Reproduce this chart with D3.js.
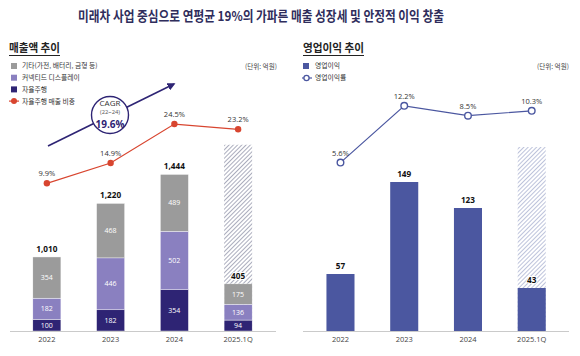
<!DOCTYPE html>
<html><head><meta charset="utf-8">
<script src="https://cdn.jsdelivr.net/npm/d3@7"></script>
<style>
html,body{margin:0;padding:0;background:#fff;}
svg{display:block;font-family:"Noto Sans CJK KR","Noto Sans",sans-serif;}
.num{font-family:"Open Sans","Noto Sans",sans-serif;}
</style></head>
<body><svg id="c" width="580" height="356"></svg>
<script>
// ---- data ----
const years = ["2022", "2023", "2024", "2025.1Q"];
const autonomous = [100, 182, 354, 94];      // 자율주행
const connected = [182, 446, 502, 136];      // 커넥티드 디스플레이
const others = [354, 468, 489, 175];         // 기타
const salesTotals = [1010, 1220, 1444, 405];
const salesForecast = [null, null, null, 1600];
const autoShare = [9.9, 14.9, 24.5, 23.2];   // 자율주행 매출 비중 (%)
const opProfit = [57, 149, 123, 43];
const opForecast = [null, null, null, 184];
const opMargin = [5.6, 12.2, 8.5, 10.3];     // 영업이익률 (%)
const cagrLabel = ["CAGR", "(22~24)", "19.6%"];

const svg = d3.select("#c");
const NAVY = "#2e2474", PURPLE = "#8a80c0", GRAY = "#9b9b9b", RED = "#d8452f", BLUE = "#4b57a0";
const defs = svg.append("defs");
function hatch(id, color) {
  const p = defs.append("pattern").attr("id", id).attr("patternUnits", "userSpaceOnUse")
    .attr("width", 3).attr("height", 3).attr("patternTransform", "rotate(45)");
  p.append("rect").attr("width", 3).attr("height", 3).attr("fill", "#fff");
  p.append("line").attr("x1", 0).attr("y1", 0).attr("x2", 0).attr("y2", 3)
    .attr("stroke", color).attr("stroke-width", 1.3);
}
hatch("hatchL", "#7d8199");
hatch("hatchR", "#9aa2c8");
defs.append("marker").attr("id", "arr").attr("viewBox", "0 0 10 10").attr("refX", 8).attr("refY", 5)
  .attr("markerWidth", 5).attr("markerHeight", 5).attr("orient", "auto")
  .append("path").attr("d", "M0,0L10,5L0,10z").attr("fill", NAVY);

// title
svg.append("text").attr("x", 261).attr("y", 21).attr("text-anchor", "middle")
  .attr("font-size", 13.5).attr("font-weight", 700).attr("fill", "#2f2d5c")
  .attr("textLength", 366).attr("lengthAdjust", "spacingAndGlyphs")
  .text("미래차 사업 중심으로 연평균 19%의 가파른 매출 성장세 및 안정적 이익 창출");

function panelTitle(x, txt, w) {
  svg.append("text").attr("x", x).attr("y", 52).attr("font-size", 11).attr("font-weight", 700)
    .attr("fill", "#222").attr("textLength", w).attr("lengthAdjust", "spacingAndGlyphs").text(txt);
  svg.append("line").attr("x1", x).attr("x2", x + w).attr("y1", 55.5).attr("y2", 55.5)
    .attr("stroke", "#222").attr("stroke-width", 1);
}
panelTitle(9, "매출액 추이", 51);
panelTitle(303, "영업이익 추이", 61);

function unit(xr) {
  svg.append("text").attr("x", xr).attr("y", 68.5).attr("text-anchor", "end").attr("font-size", 6.6)
    .attr("fill", "#444").text("(단위: 억원)");
}
unit(277); unit(569);

// left legend
const legL = [["sq", GRAY, "기타(가전, 배터리, 금형 등)"], ["sq", PURPLE, "커넥티드 디스플레이"],
  ["sq", NAVY, "자율주행"], ["dot", RED, "자율주행 매출 비중"]];
legL.forEach((d, i) => {
  const y = 66 + i * 11.7;
  if (d[0] === "sq") svg.append("rect").attr("x", 11).attr("y", y - 3).attr("width", 6).attr("height", 6).attr("fill", d[1]);
  else {
    svg.append("line").attr("x1", 9).attr("x2", 19).attr("y1", y).attr("y2", y).attr("stroke", d[1]).attr("stroke-width", 1.2);
    svg.append("circle").attr("cx", 14).attr("cy", y).attr("r", 3).attr("fill", d[1]);
  }
  svg.append("text").attr("x", 22).attr("y", y + 2.4).attr("font-size", 6.8).attr("fill", "#333").text(d[2]);
});
// right legend
svg.append("rect").attr("x", 303).attr("y", 63).attr("width", 6).attr("height", 6).attr("fill", BLUE);
svg.append("text").attr("x", 315).attr("y", 68.4).attr("font-size", 6.8).attr("fill", "#333").text("영업이익");
svg.append("line").attr("x1", 302).attr("x2", 312).attr("y1", 78).attr("y2", 78).attr("stroke", BLUE).attr("stroke-width", 1.2);
svg.append("circle").attr("cx", 306.5).attr("cy", 78).attr("r", 2.6).attr("fill", "#fff").attr("stroke", BLUE).attr("stroke-width", 1.3);
svg.append("text").attr("x", 315).attr("y", 80.4).attr("font-size", 6.8).attr("fill", "#333").text("영업이익률");

// ---- left chart ----
const xL = d3.scaleBand().domain(years).range([15, 270]).paddingInner(0.56).paddingOuter(0.28);
const yL = d3.scaleLinear().domain([0, 1700]).range([331, 133.1]);
const pL = d3.scaleLinear().domain([0, 30]).range([223.5, 101.7]);

const rows = years.map((y, i) => ({ year: y, auto: autonomous[i], conn: connected[i], other: others[i] }));
const stack = d3.stack().keys(["auto", "conn", "other"])(rows);
const colors = { auto: NAVY, conn: PURPLE, other: GRAY };

const gL = svg.append("g");
gL.selectAll("rect.fc").data(years.filter((y, i) => salesForecast[i] != null)).join("rect")
  .attr("x", d => xL(d)).attr("width", xL.bandwidth())
  .attr("y", d => yL(salesForecast[years.indexOf(d)]))
  .attr("height", d => yL(0) - yL(salesForecast[years.indexOf(d)]))
  .attr("fill", "url(#hatchL)");
stack.forEach(layer => {
  gL.selectAll(null).data(layer).join("rect")
    .attr("x", d => xL(d.data.year)).attr("width", xL.bandwidth())
    .attr("y", d => yL(d[1])).attr("height", d => yL(d[0]) - yL(d[1]))
    .attr("fill", colors[layer.key]).attr("stroke", "#fff").attr("stroke-width", 0.4);
  gL.selectAll(null).data(layer).join("text").attr("class", "num")
    .attr("x", d => xL(d.data.year) + xL.bandwidth() / 2)
    .attr("y", d => (yL(d[0]) + yL(d[1])) / 2 + 2.5)
    .attr("text-anchor", "middle").attr("font-size", 7).attr("fill", "#fff")
    .text(d => d.data[layer.key]);
});
gL.selectAll("text.tot").data(rows).join("text").attr("class", "num")
  .attr("x", d => xL(d.year) + xL.bandwidth() / 2)
  .attr("y", d => yL(d.auto + d.conn + d.other) - 5)
  .attr("text-anchor", "middle").attr("font-size", 8.2).attr("font-weight", 700).attr("fill", "#111")
  .attr("stroke", "#fff").attr("stroke-width", 2).attr("paint-order", "stroke")
  .text((d, i) => d3.format(",")(salesTotals[i]));

svg.append("line").attr("x1", 10).attr("x2", 276).attr("y1", 331.5).attr("y2", 331.5).attr("stroke", "#bdbdbd").attr("stroke-width", 0.8);
svg.append("g").attr("transform", "translate(0,331)").call(d3.axisBottom(xL).tickSize(0).tickPadding(6))
  .call(g => g.select(".domain").remove())
  .call(g => g.selectAll("text").attr("font-size", 7.5).attr("fill", "#444").attr("font-family", "'Open Sans',sans-serif"));

// CAGR arrow
svg.append("line").attr("x1", 48).attr("y1", 146).attr("x2", 174).attr("y2", 84)
  .attr("stroke", NAVY).attr("stroke-width", 1.6).attr("marker-end", "url(#arr)");
svg.append("circle").attr("cx", 110).attr("cy", 115).attr("r", 18.5).attr("fill", "#fff").attr("stroke", NAVY).attr("stroke-width", 1.4);
svg.append("text").attr("class", "num").attr("x", 110).attr("y", 105.5).attr("text-anchor", "middle").attr("font-size", 8).attr("fill", "#333").text(cagrLabel[0]);
svg.append("text").attr("class", "num").attr("x", 110).attr("y", 114.3).attr("text-anchor", "middle").attr("font-size", 5.8).attr("fill", "#555").text(cagrLabel[1]);
svg.append("text").attr("class", "num").attr("x", 110).attr("y", 127.5).attr("text-anchor", "middle").attr("font-size", 10).attr("font-weight", 700).attr("fill", NAVY).text(cagrLabel[2]);

// share line
const cx = (y) => xL(y) + xL.bandwidth() / 2;
svg.append("path").datum(autoShare).attr("fill", "none").attr("stroke", RED).attr("stroke-width", 1.2)
  .attr("d", d3.line().x((d, i) => cx(years[i])).y(d => pL(d)));
svg.selectAll("circle.sh").data(autoShare).join("circle").attr("cx", (d, i) => cx(years[i])).attr("cy", d => pL(d))
  .attr("r", 3.2).attr("fill", RED);
svg.selectAll("text.sh").data(autoShare).join("text").attr("class", "num")
  .attr("x", (d, i) => cx(years[i])).attr("y", d => pL(d) - 7)
  .attr("text-anchor", "middle").attr("font-size", 7.5).attr("fill", "#333").text(d => d + "%");

// ---- right chart ----
const xR = d3.scaleBand().domain(years).range([308.6, 563.6]).paddingInner(0.56).paddingOuter(0.28);
const yR = d3.scaleLinear().domain([0, 200]).range([331, 131]);
const mR = d3.scaleLinear().domain([5, 8, 14]).range([174, 117, 101]);
const cxR = (y) => xR(y) + xR.bandwidth() / 2;

svg.selectAll("rect.ofc").data(years.filter((y, i) => opForecast[i] != null)).join("rect")
  .attr("x", d => xR(d)).attr("width", xR.bandwidth())
  .attr("y", d => yR(opForecast[years.indexOf(d)]))
  .attr("height", d => yR(0) - yR(opForecast[years.indexOf(d)]))
  .attr("fill", "url(#hatchR)");
svg.selectAll("rect.op").data(opProfit).join("rect")
  .attr("x", (d, i) => xR(years[i])).attr("width", xR.bandwidth())
  .attr("y", d => yR(d)).attr("height", d => yR(0) - yR(d)).attr("fill", BLUE);
svg.selectAll("text.op").data(opProfit).join("text").attr("class", "num")
  .attr("x", (d, i) => cxR(years[i])).attr("y", d => yR(d) - 5)
  .attr("text-anchor", "middle").attr("font-size", 8.2).attr("font-weight", 700).attr("fill", "#111")
  .attr("stroke", "#fff").attr("stroke-width", 2).attr("paint-order", "stroke").text(d => d);

svg.append("line").attr("x1", 303).attr("x2", 569).attr("y1", 331.5).attr("y2", 331.5).attr("stroke", "#bdbdbd").attr("stroke-width", 0.8);
svg.append("g").attr("transform", "translate(0,331)").call(d3.axisBottom(xR).tickSize(0).tickPadding(6))
  .call(g => g.select(".domain").remove())
  .call(g => g.selectAll("text").attr("font-size", 7.5).attr("fill", "#444").attr("font-family", "'Open Sans',sans-serif"));

svg.append("path").datum(opMargin).attr("fill", "none").attr("stroke", BLUE).attr("stroke-width", 1.2)
  .attr("d", d3.line().x((d, i) => cxR(years[i])).y(d => mR(d)));
svg.selectAll("circle.mg").data(opMargin).join("circle").attr("cx", (d, i) => cxR(years[i])).attr("cy", d => mR(d))
  .attr("r", 3.3).attr("fill", "#fff").attr("stroke", BLUE).attr("stroke-width", 1.4);
svg.selectAll("text.mg").data(opMargin).join("text").attr("class", "num")
  .attr("x", (d, i) => cxR(years[i])).attr("y", d => mR(d) - 7)
  .attr("text-anchor", "middle").attr("font-size", 7.5).attr("fill", "#333").text(d => d + "%");
</script></body></html>
